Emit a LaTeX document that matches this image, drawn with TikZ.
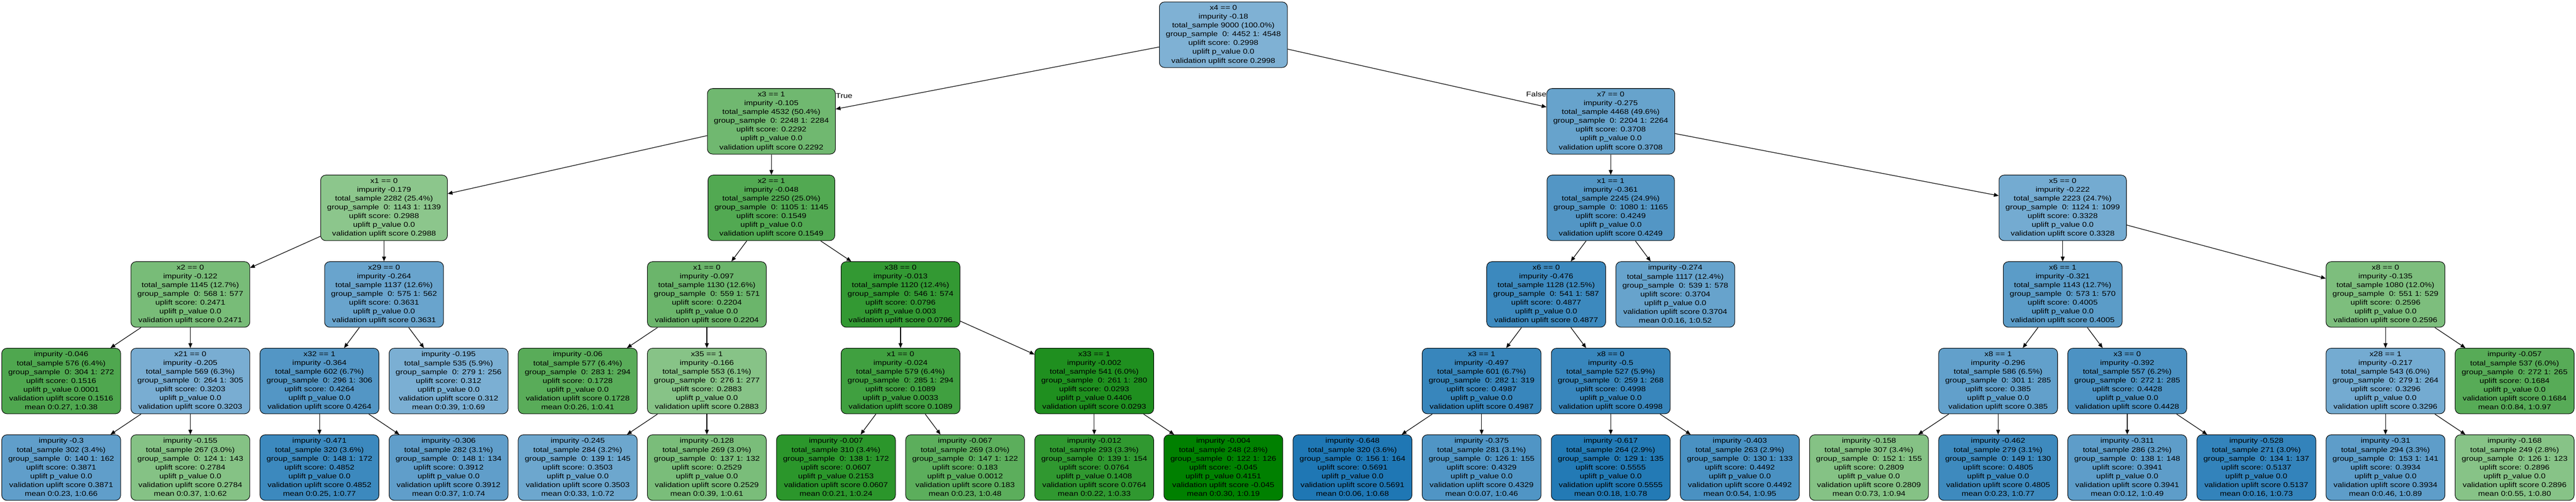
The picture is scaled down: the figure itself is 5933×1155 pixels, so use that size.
\documentclass[tikz,border=0pt]{standalone}
\usepackage{fontspec}
\setmainfont{Liberation Sans}[FakeStretch=1.18]
\usetikzlibrary{arrows.meta}
\definecolor{ug}{RGB}{0,128,0}
\definecolor{ub}{RGB}{31,119,180}
\newcommand{\NI}[6]{#1\\impurity #2\\total\_sample #3\\group\_sample\ \ #4\\uplift score: #5\\uplift p\_value #6\\validation uplift score #5}
\newcommand{\NL}[6]{impurity #1\\total\_sample #2\\group\_sample\ \ #3\\uplift score: #4\\uplift p\_value #5\\validation uplift score #4\\mean #6}
\begin{document}
\begin{tikzpicture}[x=0.5pt,y=-0.5pt,
  tn/.style={draw=black, line width=0.6pt, rounded corners=6pt, align=center,
    inner xsep=7.5pt, inner ysep=0pt, minimum height=75.5pt,
    font=\fontsize{8pt}{10.15pt}\selectfont},
  edge/.style={-{Triangle[length=5.5pt,width=4.5pt]}, line width=0.7pt, black},
  lbl/.style={inner sep=0pt, font=\fontsize{8pt}{10.15pt}\selectfont}]
\useasboundingbox (0,0) rectangle (5933,1155);
% level 0
\node[tn,fill=ub!57!white] (n0) at (2817.6,80) {\NI{x4 == 0}{-0.18}{9000 (100.0\%)}{0: 4452 1: 4548}{0.2998}{0.0}};
% level 1
\node[tn,fill=ug!56!white] (n1) at (1776.7,279.3) {\NI{x3 == 1}{-0.105}{4532 (50.4\%)}{0: 2248 1: 2284}{0.2292}{0.0}};
\node[tn,fill=ub!68!white] (n2) at (3709.8,279.3) {\NI{x7 == 0}{-0.275}{4468 (49.6\%)}{0: 2204 1: 2264}{0.3708}{0.0}};
% level 2
\node[tn,fill=ug!45!white] (n3) at (884.5,478.6) {\NI{x1 == 0}{-0.179}{2282 (25.4\%)}{0: 1143 1: 1139}{0.2988}{0.0}};
\node[tn,fill=ug!68!white] (n4) at (1776.7,478.6) {\NI{x2 == 1}{-0.048}{2250 (25.0\%)}{0: 1105 1: 1145}{0.1549}{0.0}};
\node[tn,fill=ub!77!white] (n5) at (3709.8,478.6) {\NI{x1 == 1}{-0.361}{2245 (24.9\%)}{0: 1080 1: 1165}{0.4249}{0.0}};
\node[tn,fill=ub!62!white] (n6) at (4750.7,478.6) {\NI{x5 == 0}{-0.222}{2223 (24.7\%)}{0: 1124 1: 1099}{0.3328}{0.0}};
% level 3
\node[tn,fill=ug!53!white] (n7) at (438.4,677.9) {\NI{x2 == 0}{-0.122}{1145 (12.7\%)}{0: 568 1: 577}{0.2471}{0.0}};
\node[tn,fill=ub!67!white] (n8) at (884.5,677.9) {\NI{x29 == 0}{-0.264}{1137 (12.6\%)}{0: 575 1: 562}{0.3631}{0.0}};
\node[tn,fill=ug!58!white] (n9) at (1628,677.9) {\NI{x1 == 0}{-0.097}{1130 (12.6\%)}{0: 559 1: 571}{0.2204}{0.0}};
\node[tn,fill=ug!80!white] (n10) at (2074.1,677.9) {\NI{x38 == 0}{-0.013}{1120 (12.4\%)}{0: 546 1: 574}{0.0796}{0.003}};
\node[tn,fill=ub!87!white] (n11) at (3561.1,677.9) {\NI{x6 == 0}{-0.476}{1128 (12.5\%)}{0: 541 1: 587}{0.4877}{0.0}};
\node[tn,fill=ub!68!white] (n12) at (3858.5,677.9) {\NL{-0.274}{1117 (12.4\%)}{0: 539 1: 578}{0.3704}{0.0}{0:0.16, 1:0.52}};
\node[tn,fill=ub!73!white] (n13) at (4750.7,677.9) {\NI{x6 == 1}{-0.321}{1143 (12.7\%)}{0: 573 1: 570}{0.4005}{0.0}};
\node[tn,fill=ug!51!white] (n14) at (5494.2,677.9) {\NI{x8 == 0}{-0.135}{1080 (12.0\%)}{0: 551 1: 529}{0.2596}{0.0}};
% level 4
\node[tn,fill=ug!69!white] (n15) at (141,877.2) {\NL{-0.046}{576 (6.4\%)}{0: 304 1: 272}{0.1516}{0.0001}{0:0.27, 1:0.38}};
\node[tn,fill=ub!60!white] (n16) at (438.4,877.2) {\NI{x21 == 0}{-0.205}{569 (6.3\%)}{0: 264 1: 305}{0.3203}{0.0}};
\node[tn,fill=ub!77!white] (n17) at (735.8,877.2) {\NI{x32 == 1}{-0.364}{602 (6.7\%)}{0: 296 1: 306}{0.4264}{0.0}};
\node[tn,fill=ub!59!white] (n18) at (1033.2,877.2) {\NL{-0.195}{535 (5.9\%)}{0: 279 1: 256}{0.312}{0.0}{0:0.39, 1:0.69}};
\node[tn,fill=ug!65!white] (n19) at (1330.6,877.2) {\NL{-0.06}{577 (6.4\%)}{0: 283 1: 294}{0.1728}{0.0}{0:0.26, 1:0.41}};
\node[tn,fill=ug!47!white] (n20) at (1628,877.2) {\NI{x35 == 1}{-0.166}{553 (6.1\%)}{0: 276 1: 277}{0.2883}{0.0}};
\node[tn,fill=ug!75!white] (n21) at (2074.1,877.2) {\NI{x1 == 0}{-0.024}{579 (6.4\%)}{0: 285 1: 294}{0.1089}{0.0033}};
\node[tn,fill=ug!88!white] (n22) at (2520.2,877.2) {\NI{x33 == 1}{-0.002}{541 (6.0\%)}{0: 261 1: 280}{0.0293}{0.4406}};
\node[tn,fill=ub!89!white] (n23) at (3412.4,877.2) {\NI{x3 == 1}{-0.497}{601 (6.7\%)}{0: 282 1: 319}{0.4987}{0.0}};
\node[tn,fill=ub!89!white] (n24) at (3709.8,877.2) {\NI{x8 == 0}{-0.5}{527 (5.9\%)}{0: 259 1: 268}{0.4998}{0.0}};
\node[tn,fill=ub!70!white] (n25) at (4602,877.2) {\NI{x8 == 1}{-0.296}{586 (6.5\%)}{0: 301 1: 285}{0.385}{0.0}};
\node[tn,fill=ub!80!white] (n26) at (4899.4,877.2) {\NI{x3 == 0}{-0.392}{557 (6.2\%)}{0: 272 1: 285}{0.4428}{0.0}};
\node[tn,fill=ub!62!white] (n27) at (5494.2,877.2) {\NI{x28 == 1}{-0.217}{543 (6.0\%)}{0: 279 1: 264}{0.3296}{0.0}};
\node[tn,fill=ug!66!white] (n28) at (5791.6,877.2) {\NL{-0.057}{537 (6.0\%)}{0: 272 1: 265}{0.1684}{0.0}{0:0.84, 1:0.97}};
% level 5
\node[tn,fill=ub!71!white] (n29) at (141,1076.5) {\NL{-0.3}{302 (3.4\%)}{0: 140 1: 162}{0.3871}{0.0}{0:0.23, 1:0.66}};
\node[tn,fill=ug!48!white] (n30) at (438.4,1076.5) {\NL{-0.155}{267 (3.0\%)}{0: 124 1: 143}{0.2784}{0.0}{0:0.37, 1:0.62}};
\node[tn,fill=ub!87!white] (n31) at (735.8,1076.5) {\NL{-0.471}{320 (3.6\%)}{0: 148 1: 172}{0.4852}{0.0}{0:0.25, 1:0.77}};
\node[tn,fill=ub!71!white] (n32) at (1033.2,1076.5) {\NL{-0.306}{282 (3.1\%)}{0: 148 1: 134}{0.3912}{0.0}{0:0.37, 1:0.74}};
\node[tn,fill=ub!65!white] (n33) at (1330.6,1076.5) {\NL{-0.245}{284 (3.2\%)}{0: 139 1: 145}{0.3503}{0.0}{0:0.33, 1:0.72}};
\node[tn,fill=ug!52!white] (n34) at (1628,1076.5) {\NL{-0.128}{269 (3.0\%)}{0: 137 1: 132}{0.2529}{0.0}{0:0.39, 1:0.61}};
\node[tn,fill=ug!83!white] (n35) at (1925.4,1076.5) {\NL{-0.007}{310 (3.4\%)}{0: 138 1: 172}{0.0607}{0.2153}{0:0.21, 1:0.24}};
\node[tn,fill=ug!64!white] (n36) at (2222.8,1076.5) {\NL{-0.067}{269 (3.0\%)}{0: 147 1: 122}{0.183}{0.0012}{0:0.23, 1:0.48}};
\node[tn,fill=ug!81!white] (n37) at (2520.2,1076.5) {\NL{-0.012}{293 (3.3\%)}{0: 139 1: 154}{0.0764}{0.1408}{0:0.22, 1:0.33}};
\node[tn,fill=ug!100!white] (n38) at (2817.6,1076.5) {\NL{-0.004}{248 (2.8\%)}{0: 122 1: 126}{-0.045}{0.4151}{0:0.30, 1:0.19}};
\node[tn,fill=ub!100!white] (n39) at (3115,1076.5) {\NL{-0.648}{320 (3.6\%)}{0: 156 1: 164}{0.5691}{0.0}{0:0.06, 1:0.68}};
\node[tn,fill=ub!78!white] (n40) at (3412.4,1076.5) {\NL{-0.375}{281 (3.1\%)}{0: 126 1: 155}{0.4329}{0.0}{0:0.07, 1:0.46}};
\node[tn,fill=ub!98!white] (n41) at (3709.8,1076.5) {\NL{-0.617}{264 (2.9\%)}{0: 129 1: 135}{0.5555}{0.0}{0:0.18, 1:0.78}};
\node[tn,fill=ub!81!white] (n42) at (4007.2,1076.5) {\NL{-0.403}{263 (2.9\%)}{0: 130 1: 133}{0.4492}{0.0}{0:0.54, 1:0.95}};
\node[tn,fill=ug!48!white] (n43) at (4304.6,1076.5) {\NL{-0.158}{307 (3.4\%)}{0: 152 1: 155}{0.2809}{0.0}{0:0.73, 1:0.94}};
\node[tn,fill=ub!86!white] (n44) at (4602,1076.5) {\NL{-0.462}{279 (3.1\%)}{0: 149 1: 130}{0.4805}{0.0}{0:0.23, 1:0.77}};
\node[tn,fill=ub!72!white] (n45) at (4899.4,1076.5) {\NL{-0.311}{286 (3.2\%)}{0: 138 1: 148}{0.3941}{0.0}{0:0.12, 1:0.49}};
\node[tn,fill=ub!91!white] (n46) at (5196.8,1076.5) {\NL{-0.528}{271 (3.0\%)}{0: 134 1: 137}{0.5137}{0.0}{0:0.16, 1:0.73}};
\node[tn,fill=ub!72!white] (n47) at (5494.2,1076.5) {\NL{-0.31}{294 (3.3\%)}{0: 153 1: 141}{0.3934}{0.0}{0:0.46, 1:0.89}};
\node[tn,fill=ug!47!white] (n48) at (5791.6,1076.5) {\NL{-0.168}{249 (2.8\%)}{0: 126 1: 123}{0.2896}{0.0}{0:0.55, 1:0.80}};
% edges
\foreach \p/\c in {n0/n1,n0/n2,n1/n3,n1/n4,n2/n5,n2/n6,n3/n7,n3/n8,n4/n9,n4/n10,
  n5/n11,n5/n12,n6/n13,n6/n14,n7/n15,n7/n16,n8/n17,n8/n18,n9/n19,n9/n20,
  n10/n21,n10/n22,n11/n23,n11/n24,n13/n25,n13/n26,n14/n27,n14/n28,
  n16/n29,n16/n30,n17/n31,n17/n32,n20/n33,n20/n34,n21/n35,n21/n36,
  n22/n37,n22/n38,n23/n39,n23/n40,n24/n41,n24/n42,n25/n43,n25/n44,
  n26/n45,n26/n46,n27/n47,n27/n48}
  \draw[edge] (\p) -- (\c);
% edge labels
\node[lbl,anchor=west] (ltrue) at ([yshift=-9pt]n1.north east) {True};
\node[lbl,anchor=east] (lfalse) at ([yshift=-7pt]n2.north west) {False};
\end{tikzpicture}
\end{document}
